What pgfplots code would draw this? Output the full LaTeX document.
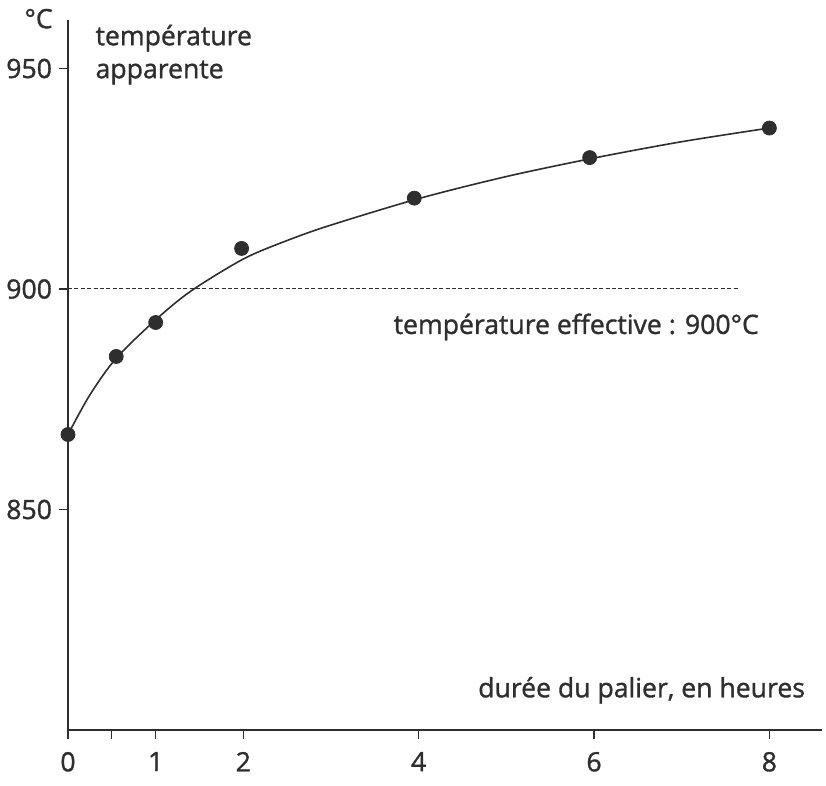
\documentclass[border=0pt]{standalone}
\usepackage{fontspec}
\setmainfont{Open Sans}[BoldFont={Open Sans}, BoldFeatures={FakeBold=1.2}]
\usepackage{pgfplots}
\pgfplotsset{compat=1.18}
\definecolor{ink}{HTML}{2E2E2E}
\newcommand{\lblfont}{\fontsize{13.3}{16.5}\selectfont\bfseries}

\begin{document}
\begin{tikzpicture}
\useasboundingbox (-34pt,-28pt) rectangle (379pt,365pt);
\begin{axis}[
    scale only axis,
    width=377pt, height=355pt,
    xmin=0, xmax=8.6,
    ymin=800, ymax=961,
    axis lines=left,
    axis line style={ink, line width=0.9pt, -},
    xtick={0,0.5,1,2,4,6,8},
    xticklabels={0,,1,2,4,6,8},
    ytick={850,900,950},
    tick align=outside,
    major tick length=4.5pt,
    tick style={ink, line width=0.6pt},
    xticklabel style={yshift=-3pt},
    /pgf/number format/assume math mode=true,
    tick label style={font=\lblfont, text=ink},
    clip=false,
]
% dashed reference line
\addplot[ink, line width=0.5pt, dash pattern=on 2pt off 1.2pt] coordinates {(0,900) (7.66,900)};

% fitted curve
\addplot[ink, line width=0.8pt, smooth, tension=0.5] coordinates {
    (0,867) (0.25,876) (0.55,884.3) (1,893) (1.4,899.5) (2,906.8)
    (2.5,911) (3,914.5) (4,920.5) (5,925.5) (6,929.7) (7,933.4) (8,936.5)
};

% measured points
\addplot[only marks, mark=*, mark size=3.5pt, ink, mark options={fill=ink}] coordinates {
    (0,867) (0.55,884.7) (1.0,892.4) (1.98,909.2) (3.95,920.6) (5.95,929.8) (8.0,936.5)
};

\node[anchor=east, font=\lblfont, text=ink, inner sep=0pt] at (axis cs:-0.17,961.3) {°C};
\node[anchor=north west, align=left, font=\lblfont, text=ink, inner sep=0pt] at (axis cs:0.31,960) {température\\apparente};
\node[anchor=west, font=\lblfont, text=ink, inner sep=0pt] at (axis cs:3.71,891.4) {température effective : 900°C};
\node[anchor=east, font=\lblfont, text=ink, inner sep=0pt] at (axis cs:8.41,809) {durée du palier, en heures};
\end{axis}
\end{tikzpicture}
\end{document}
